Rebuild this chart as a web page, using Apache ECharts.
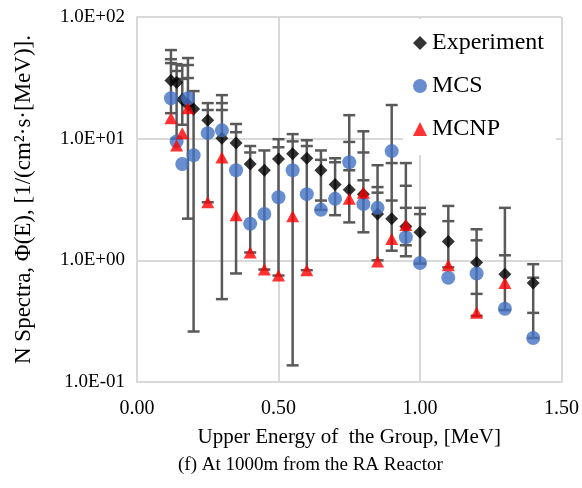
<!DOCTYPE html>
<html>
<head>
<meta charset="utf-8">
<script src="https://cdn.jsdelivr.net/npm/echarts@6.0.0/dist/echarts.min.js"></script>
<style>
  html, body { margin: 0; padding: 0; background: #fff; }
  #chart { width: 582px; height: 488px; }
</style>
</head>
<body>
<div id="chart"></div>
<script>
// upper energy of each group [MeV]
const energy = [0.12, 0.14, 0.16, 0.18, 0.2, 0.25, 0.3, 0.35, 0.4, 0.45, 0.5, 0.55, 0.6, 0.65, 0.7, 0.75, 0.8, 0.85, 0.9, 0.95, 1.0, 1.1, 1.2, 1.3, 1.4];
const experiment = [30, 29, 21, 19, 17.5, 14.2, 10.1, 9.2, 6.2, 5.5, 6.8, 7.5, 6.9, 5.5, 4.2, 3.8, 3.5, 2.4, 2.2, 1.9, 1.7, 1.43, 0.96, 0.77, 0.65];
const mcs = [21.5, 9.5, 6.2, 21.5, 7.3, 11.1, 11.7, 5.5, 2.0, 2.4, 3.3, 5.5, 3.5, 2.6, 3.2, 6.4, 2.9, 2.7, 7.9, 1.55, 0.95, 0.72, 0.78, 0.40, 0.23];
const mcnp = [14.7, 8.8, 11.1, 17.8, null, 3.0, 7.0, 2.35, 1.16, 0.84, 0.75, 2.3, 0.83, null, null, 3.2, 3.6, 0.98, 1.5, 1.95, null, 0.91, 0.37, 0.65, null];
// error bar cap levels at each energy (bar runs from lowest to highest)
const errorCaps = [
  [53.5, 45, 41.8, 16.2],
  [41, 36, 10],
  [40, 31, 13],
  [46, 40.3, 31.5, 2.2],
  [24.6, 0.26],
  [19.6, 17.2, 3.0],
  [22.8, 19.6, 17.2, 0.48],
  [13.2, 11.3, 0.78],
  [8.7, 7.7, 1.16],
  [8.0, 0.84],
  [9.9, 8.5, 0.75],
  [10.9, 9.5, 0.137],
  [9.7, 8.7, 0.83],
  [8.0, 6.7, 3.1, 2.6],
  [6.9, 6.4, 2.35],
  [15.6, 9.4, 5.5, 2.05],
  [11.5, 7.7, 4.55, 1.7],
  [6.05, 4.0, 3.6, 1.0],
  [18.9, 6.3, 3.1, 1.2],
  [6.3, 4.1, 2.7, 1.33, 1.08],
  [2.7, 2.4, 0.94],
  [2.8, 2.1, 0.875],
  [1.8, 1.46, 0.53, 0.35],
  [2.7, 1.1, 0.39],
  [0.93, 0.72, 0.37, 0.23],
];

const font = '"Liberation Serif", "Times New Roman", serif';
const gridColor = '#d9d9d9';
const barColor = '#595959';

const pairs = (values) => energy
  .map((e, i) => [e, values[i]])
  .filter((p) => p[1] != null);

const sciLabel = (v) => {
  const [m, e] = v.toExponential(1).split('e');
  const n = Math.abs(parseInt(e, 10));
  return m + 'E' + (e[0] === '-' ? '-' : '+') + (n < 10 ? '0' : '') + n;
};

const chart = echarts.init(document.getElementById('chart'));

chart.setOption({
  animation: false,
  textStyle: { fontFamily: font },
  grid: { left: 137, right: 19, top: 17, bottom: 106 },
  legend: {
    orient: 'vertical',
    left: 403,
    top: 19,
    padding: [12, 12, 14, 10],
    backgroundColor: '#fff',
    itemWidth: 14,
    itemHeight: 14,
    itemGap: 19,
    textStyle: { fontFamily: font, fontSize: 24, color: '#000', lineHeight: 24 },
    data: [
      { name: 'Experiment', icon: 'diamond' },
      { name: 'MCS', icon: 'circle' },
      { name: 'MCNP', icon: 'triangle' },
    ],
  },
  xAxis: {
    type: 'value',
    min: 0,
    max: 1.5,
    interval: 0.5,
    name: 'Upper Energy of  the Group, [MeV]',
    nameLocation: 'middle',
    nameGap: 45,
    nameTextStyle: { fontFamily: font, fontSize: 21, color: '#000' },
    axisLine: { show: true, lineStyle: { color: gridColor, width: 2 } },
    axisTick: { show: false },
    axisLabel: {
      fontFamily: font, fontSize: 20, color: '#000', margin: 17,
      formatter: (v) => v.toFixed(2),
    },
    splitLine: { show: true, lineStyle: { color: gridColor, width: 2 } },
  },
  yAxis: {
    type: 'log',
    logBase: 10,
    min: 0.1,
    max: 100,
    name: 'N Spectra, \u03A6(E), [1/(cm\u00B2\u00B7s\u00B7[MeV)].',
    nameLocation: 'middle',
    nameGap: 102,
    nameTextStyle: { fontFamily: font, fontSize: 23, color: '#000' },
    axisLine: { show: true, lineStyle: { color: gridColor, width: 2 } },
    axisTick: { show: false },
    axisLabel: {
      fontFamily: font, fontSize: 19, color: '#000', margin: 12,
      formatter: sciLabel,
    },
    splitLine: { show: true, lineStyle: { color: gridColor, width: 2 } },
    minorSplitLine: { show: false },
  },
  graphic: [{
    type: 'text',
    left: 178,
    top: 456,
    style: {
      text: '(f) At 1000m from the RA Reactor',
      font: '19px ' + font,
      fill: '#000',
    },
  }],
  series: [
    {
      name: 'errors',
      type: 'custom',
      z: 1,
      data: energy.map((e, i) => [e, Math.min(...errorCaps[i]), Math.max(...errorCaps[i])]),
      encode: { x: 0, y: [1, 2] },
      renderItem: (params, api) => {
        const x = api.value(0);
        const caps = errorCaps[params.dataIndex];
        const top = api.coord([x, api.value(2)]);
        const bottom = api.coord([x, api.value(1)]);
        const style = { stroke: barColor, lineWidth: 2.5 };
        const children = [{
          type: 'line',
          shape: { x1: top[0], y1: top[1], x2: bottom[0], y2: bottom[1] },
          style,
        }];
        caps.forEach((c) => {
          const p = api.coord([x, c]);
          children.push({
            type: 'line',
            shape: { x1: p[0] - 6, y1: p[1], x2: p[0] + 6, y2: p[1] },
            style,
          });
        });
        return { type: 'group', children };
      },
    },
    {
      name: 'Experiment',
      type: 'scatter',
      symbol: 'diamond',
      symbolSize: 13,
      z: 3,
      itemStyle: { color: '#000' },
      data: pairs(experiment),
    },
    {
      name: 'MCS',
      type: 'scatter',
      symbol: 'circle',
      symbolSize: 14,
      z: 4,
      itemStyle: { color: '#4472C4' },
      data: pairs(mcs),
    },
    {
      name: 'MCNP',
      type: 'scatter',
      symbol: 'triangle',
      symbolSize: [13, 12],
      z: 5,
      itemStyle: { color: '#FF0000' },
      data: pairs(mcnp),
    },
  ],
});
</script>
</body>
</html>
